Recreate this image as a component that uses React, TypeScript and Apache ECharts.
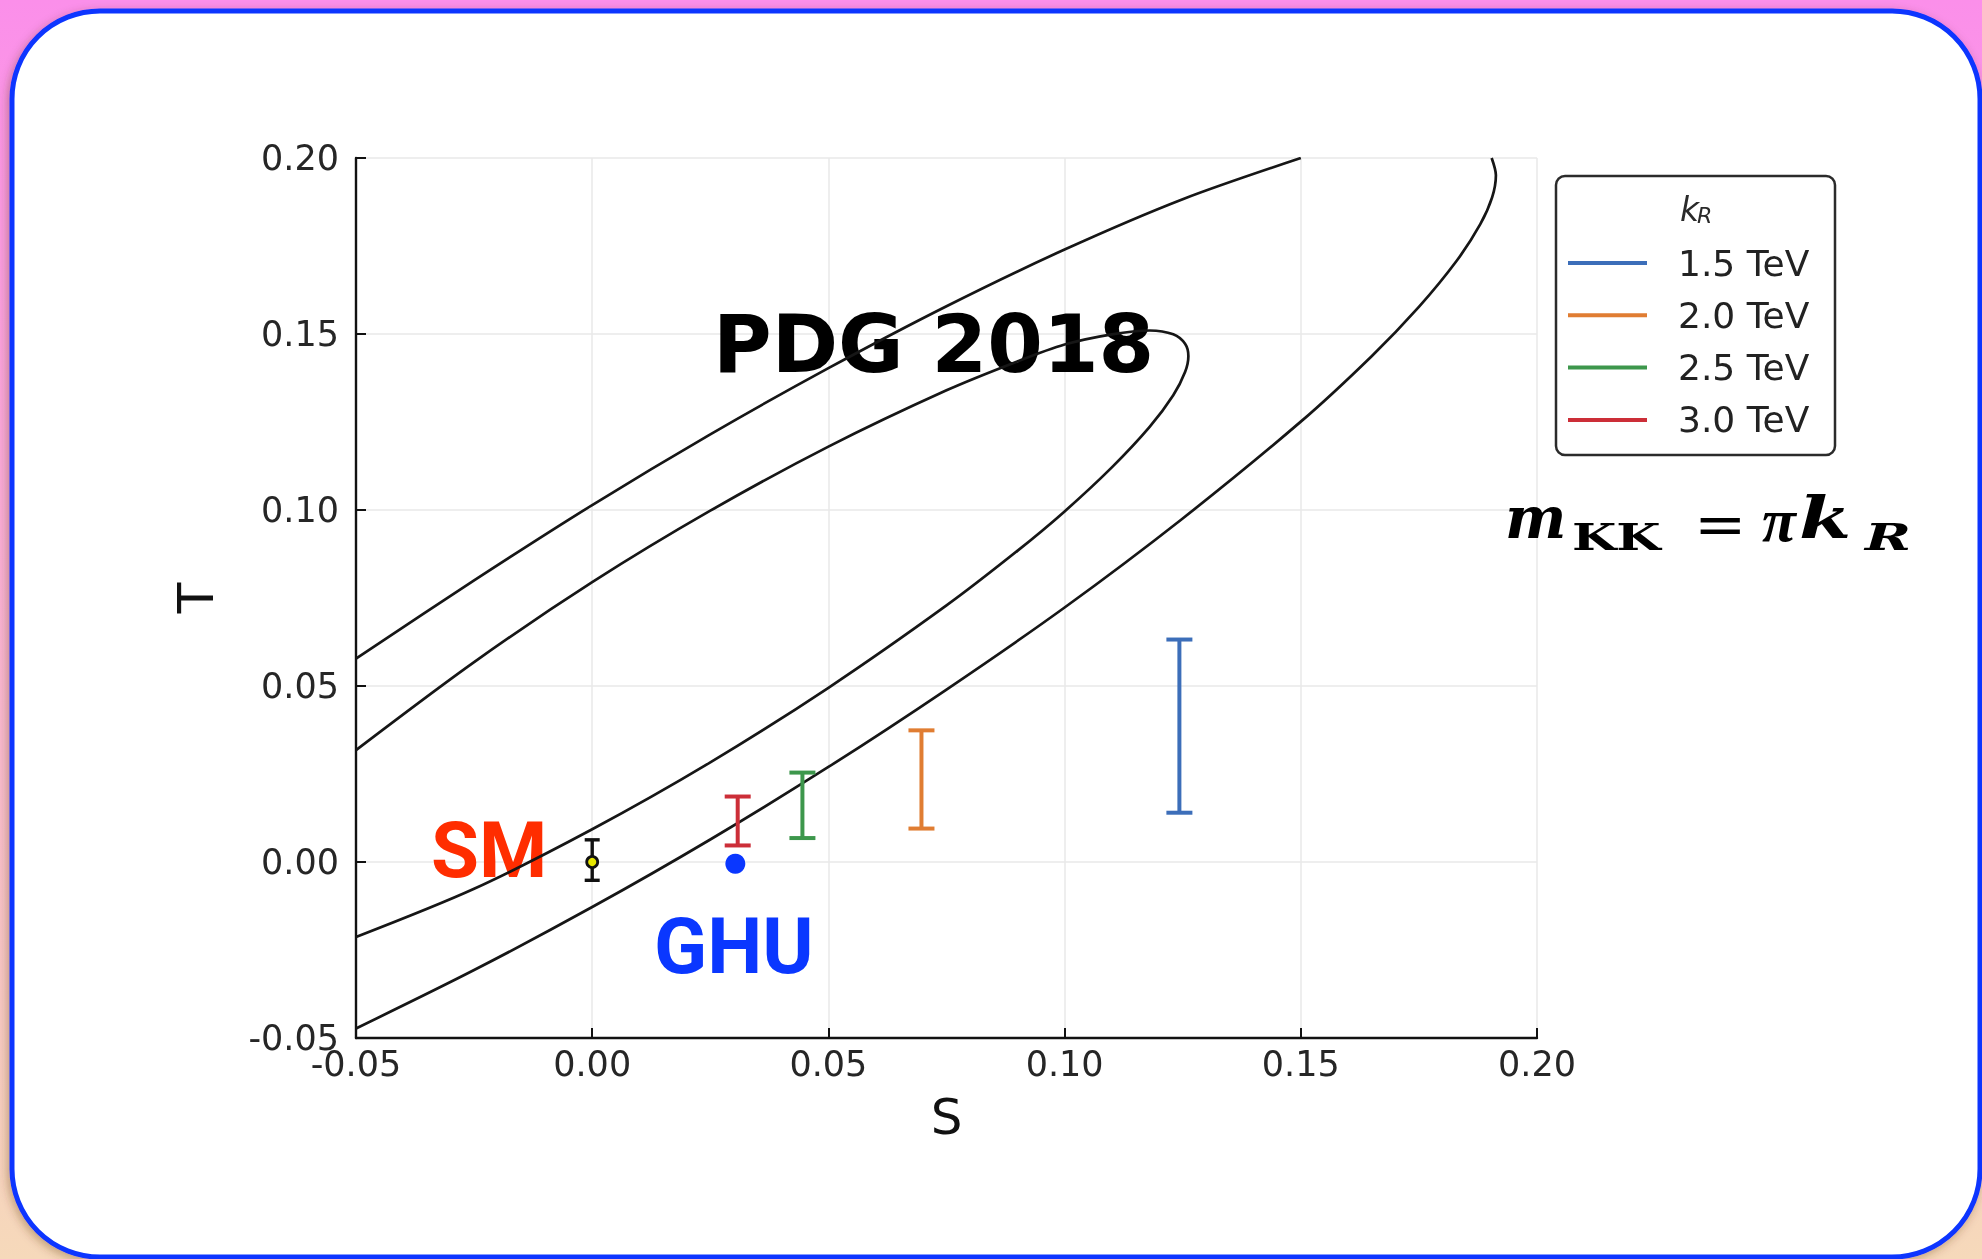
import { useEffect, useRef } from "react";
import * as echarts from "echarts";

// PDG 2018 oblique-parameter contours, [S, T] pairs along each curve
const contour68 = [
  [-0.05, 0.0318], [-0.025, 0.0568], [0, 0.0795], [0.025, 0.0998], [0.05, 0.118],
  [0.075, 0.134], [0.09, 0.1422], [0.1, 0.147], [0.11, 0.1499], [0.118, 0.151],
  [0.123, 0.1499], [0.1255, 0.1472], [0.1262, 0.1437], [0.1255, 0.1392],
  [0.123, 0.1326], [0.118, 0.1236], [0.11, 0.1121], [0.1, 0.0996],
  [0.09, 0.0884], [0.075, 0.0729], [0.05, 0.0495], [0.025, 0.0283],
  [0, 0.0093], [-0.025, -0.0076], [-0.05, -0.0213],
];
const contour95Upper = [
  [-0.05, 0.0578], [-0.025, 0.08], [0, 0.1014], [0.025, 0.1215], [0.05, 0.1403],
  [0.075, 0.1579], [0.1, 0.174], [0.125, 0.1883], [0.15, 0.2],
];
const contour95Lower = [
  [0.1904, 0.2], [0.1913, 0.1951], [0.1905, 0.1888], [0.188, 0.1812],
  [0.183, 0.1708], [0.175, 0.1577], [0.165, 0.1437], [0.15, 0.1251],
  [0.125, 0.0976], [0.1, 0.0723], [0.075, 0.049], [0.05, 0.027],
  [0.025, 0.0064], [0, -0.0128], [-0.025, -0.0307], [-0.05, -0.0473],
];

// GHU predictions for each k_R: S and the T range
const kRLabels = ["1.5 TeV", "2.0 TeV", "2.5 TeV", "3.0 TeV"];
const kRColors = ["#3c6eb9", "#e07d32", "#3d974c", "#cc2e38"];
const kRS = [0.1243, 0.0697, 0.0445, 0.0308];
const kRTLow = [0.014, 0.0095, 0.0068, 0.0047];
const kRTHigh = [0.0632, 0.0374, 0.0254, 0.0186];

// Standard Model reference point and the GHU point
const smPoint = [0, 0];
const smTRange = [-0.0052, 0.0063];
const ghuPoint = [0.0303, -0.0005];

// axis ticks
const axisMin = -0.05;
const axisMax = 0.2;
const axisStep = 0.05;

const fmt = (v: number) => (Math.abs(v) < 1e-9 ? "0.00" : v.toFixed(2));

function errorBar(capHalf: number, width: number) {
  return (_params: any, api: any) => {
    const s = api.value(0);
    const lo = api.coord([s, api.value(1)]);
    const hi = api.coord([s, api.value(2)]);
    const style = { stroke: api.visual("color"), lineWidth: width, fill: "none" };
    return {
      type: "group",
      children: [
        { type: "line", shape: { x1: lo[0], y1: lo[1], x2: hi[0], y2: hi[1] }, style },
        { type: "line", shape: { x1: hi[0] - capHalf, y1: hi[1], x2: hi[0] + capHalf, y2: hi[1] }, style },
        { type: "line", shape: { x1: lo[0] - capHalf, y1: lo[1], x2: lo[0] + capHalf, y2: lo[1] }, style },
      ],
    };
  };
}

function axisCommon(name: string, gap: number, labelMargin: number) {
  return {
    type: "value",
    min: axisMin,
    max: axisMax,
    interval: axisStep,
    name,
    nameLocation: "middle",
    nameGap: gap,
    nameTextStyle: { fontSize: 50, color: "#111", fontFamily: "DejaVu Sans" },
    axisLine: { show: true, onZero: false, lineStyle: { color: "#111", width: 2.4 } },
    axisTick: { show: true, inside: true, length: 10, lineStyle: { color: "#111", width: 2 } },
    axisLabel: { margin: labelMargin, fontSize: 35, color: "#262626", fontFamily: "DejaVu Sans", formatter: fmt },
    splitLine: { show: true, lineStyle: { color: "#e8e8e8", width: 1.5 } },
  };
}

const curveStyle = { color: "#161616", width: 2.7 };

function mathText(text: string, x: number, y: number, size: number, opts: any = {}) {
  return {
    type: "text",
    z: 5,
    x,
    y,
    scaleX: opts.scaleX ?? 1,
    style: {
      text,
      fontSize: size,
      fontWeight: opts.weight ?? "bold",
      fontStyle: opts.italic === false ? "normal" : "italic",
      fontFamily: opts.family ?? "DejaVu Serif",
      fill: "#000",
      verticalAlign: "middle",
    },
  };
}

export default function App() {
  const ref = useRef<HTMLDivElement>(null);

  useEffect(() => {
    if (!ref.current) return;
    const chart = echarts.init(ref.current, undefined, { renderer: "svg" });

    const kRSeries = kRLabels.map((name, i) => ({
      name,
      type: "custom",
      renderItem: errorBar(13, 4),
      itemStyle: { color: kRColors[i] },
      encode: { x: 0, y: [1, 2] },
      data: [[kRS[i], kRTLow[i], kRTHigh[i]]],
      z: 4,
    }));

    const option: any = {
      animation: false,
      textStyle: { fontFamily: "DejaVu Sans" },
      grid: { left: 356, top: 158, width: 1181, height: 880, containLabel: false },
      xAxis: axisCommon("S", 54, 8),
      yAxis: axisCommon("T", 135, 17),
      legend: {
        data: kRLabels,
        orient: "vertical",
        left: 1568,
        top: 243,
        padding: 0,
        itemGap: 12.3,
        itemWidth: 79,
        itemHeight: 4,
        icon: "rect",
        selectedMode: false,
        textStyle: { fontSize: 36, color: "#222", fontFamily: "DejaVu Sans", lineHeight: 40, padding: [0, 0, 0, 26] },
      },
      series: [
        { type: "line", data: contour68, smooth: 0.3, symbol: "none", lineStyle: curveStyle, z: 2 },
        { type: "line", data: contour95Upper, smooth: 0.3, symbol: "none", lineStyle: curveStyle, z: 2 },
        { type: "line", data: contour95Lower, smooth: 0.3, symbol: "none", lineStyle: curveStyle, z: 2 },
        ...kRSeries,
        {
          name: "SM",
          type: "custom",
          renderItem: errorBar(7.5, 3.4),
          itemStyle: { color: "#111" },
          encode: { x: 0, y: [1, 2] },
          data: [[smPoint[0], smTRange[0], smTRange[1]]],
          z: 4,
        },
        {
          name: "SM point",
          type: "scatter",
          data: [smPoint],
          symbol: "circle",
          symbolSize: 11,
          itemStyle: { color: "#e6e600", borderColor: "#111", borderWidth: 2.8, opacity: 1 },
          z: 5,
        },
        {
          name: "GHU",
          type: "scatter",
          data: [ghuPoint],
          symbol: "circle",
          symbolSize: 20,
          itemStyle: { color: "#0a37ff", opacity: 1 },
          z: 5,
        },
      ],
      graphic: [
        {
          type: "rect",
          z: -20,
          silent: true,
          shape: { x: 0, y: 0, width: 1982, height: 1259 },
          style: {
            fill: new echarts.graphic.LinearGradient(0, 0, 0, 1, [
              { offset: 0, color: "#fb8fea" },
              { offset: 1, color: "#f6d9ba" },
            ]),
          },
        },
        {
          type: "rect",
          z: -10,
          silent: true,
          shape: { x: 12, y: 11, width: 1968, height: 1246, r: 88 },
          style: {
            fill: "#ffffff",
            stroke: "#0a36ff",
            lineWidth: 5,
            shadowBlur: 10,
            shadowColor: "rgba(90,50,10,0.35)",
            shadowOffsetX: -2,
            shadowOffsetY: 3,
          },
        },
        // legend frame and its title
        {
          type: "rect",
          z: 3,
          shape: { x: 1556, y: 176, width: 279, height: 279, r: 9 },
          style: { fill: "#ffffff", stroke: "#2b2b2b", lineWidth: 2.5 },
        },
        {
          type: "text",
          z: 5,
          x: 1680,
          y: 209,
          style: { text: "k", fontSize: 33, fontStyle: "italic", fontFamily: "DejaVu Sans", fill: "#2a2a2a", verticalAlign: "middle" },
        },
        {
          type: "text",
          z: 5,
          x: 1697,
          y: 215,
          style: { text: "R", fontSize: 22, fontStyle: "italic", fontFamily: "DejaVu Sans", fill: "#2a2a2a", verticalAlign: "middle" },
        },
        // annotations
        {
          type: "text",
          z: 1,
          x: 713,
          y: 344,
          style: { text: "PDG 2018", fontSize: 80, fontWeight: "bold", fontFamily: "DejaVu Sans", fill: "#000", verticalAlign: "middle" },
        },
        {
          type: "text",
          z: 1,
          x: 431,
          y: 850,
          style: { text: "SM", fontSize: 78, fontWeight: "bold", fontFamily: "Roboto", fill: "#ff2d00", verticalAlign: "middle" },
        },
        {
          type: "text",
          z: 1,
          x: 654,
          y: 946,
          style: { text: "GHU", fontSize: 78, fontWeight: "bold", fontFamily: "Roboto", fill: "#0a37ff", verticalAlign: "middle" },
        },
        // m_KK = π k_R
        mathText("m", 1505, 518, 58),
        mathText("KK", 1572, 537, 37, { italic: false, scaleX: 1.38 }),
        mathText("=", 1694, 524, 58, { italic: false, weight: "normal", scaleX: 1.08 }),
        mathText("π", 1762, 520, 62, { family: "Liberation Serif" }),
        mathText("k", 1799, 518, 58, { scaleX: 1.3 }),
        mathText("R", 1865, 537, 37, { scaleX: 1.5 }),
      ],
    };

    chart.setOption(option);
    return () => chart.dispose();
  }, []);

  return (
    <div style={{ position: "fixed", left: 0, top: 0, width: 1982, height: 1259, overflow: "hidden" }}>
      <div ref={ref} style={{ width: 1982, height: 1259 }} />
    </div>
  );
}
